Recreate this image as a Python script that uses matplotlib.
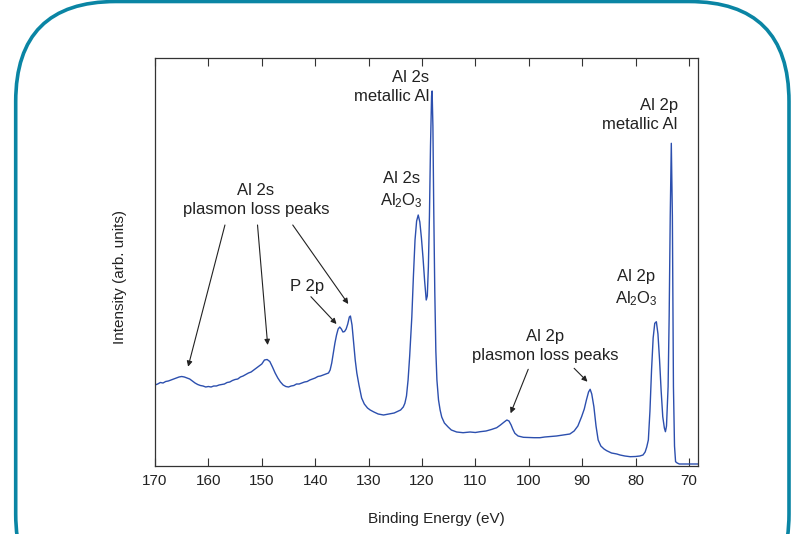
import matplotlib
matplotlib.use("Agg")
import matplotlib.pyplot as plt
from matplotlib.patches import FancyBboxPatch
from matplotlib.transforms import IdentityTransform

plt.rcParams['font.family'] = ['Liberation Sans', 'DejaVu Sans']
plt.rcParams['mathtext.fontset'] = 'custom'
plt.rcParams['mathtext.rm'] = 'Liberation Sans'
plt.rcParams['mathtext.default'] = 'regular'

# ---- data (binding energy in eV, intensity in arb. units) ----
energy = [170.0, 169.5, 169.0, 168.5, 168.0, 167.5, 167.0, 166.5, 166.0, 165.5,
          165.0, 164.5, 164.0, 163.5, 163.0, 162.5, 162.0, 161.5, 161.0, 160.5,
          160.0, 159.5, 159.0, 158.5, 158.0, 157.5, 157.0, 156.5, 156.0, 155.5,
          155.0, 154.5, 154.0, 153.5, 153.0, 152.5, 152.0, 151.5, 151.0, 150.5,
          150.0, 149.5, 149.0, 148.5, 148.0, 147.5, 147.0, 146.5, 146.0, 145.5,
          145.0, 144.5, 144.0, 143.5, 143.0, 142.5, 142.0, 141.5, 141.0, 140.5,
          140.0, 139.5, 139.0, 138.5, 138.0, 137.5, 137.2, 136.9, 136.6, 136.3,
          136.0, 135.7, 135.4, 135.1, 134.8, 134.5, 134.2, 133.9, 133.6, 133.4,
          133.1, 132.8, 132.5, 132.2, 131.8, 131.3, 130.8, 130.2, 129.7, 129.0,
          128.2, 127.2, 126.2, 125.2, 124.7, 124.0, 123.5, 123.2, 122.9, 122.6,
          122.3, 121.9, 121.6, 121.3, 121.0, 120.7, 120.4, 120.1, 119.8, 119.5,
          119.2, 119.0, 118.8, 118.6, 118.4, 118.2, 118.1, 117.95, 117.8, 117.6,
          117.4, 117.2, 116.9, 116.6, 116.3, 115.8, 115.1, 114.5, 113.5, 112.3,
          111.0, 110.0, 109.1, 108.0, 107.0, 106.0, 105.3, 104.6, 104.1, 103.7,
          103.3, 103.0, 102.6, 102.0, 101.0, 100.0, 99.0, 97.9, 97.0, 96.0,
          94.8, 93.5, 92.3, 91.5, 90.8, 90.1, 89.6, 89.2, 88.8, 88.5,
          88.2, 87.8, 87.4, 87.0, 86.5, 85.9, 85.4, 84.5, 83.5, 82.9,
          82.0, 81.0, 80.0, 79.2, 78.6, 78.2, 77.9, 77.6, 77.3, 77.0,
          76.7, 76.4, 76.1, 75.8, 75.5, 75.2, 74.9, 74.6, 74.4, 74.2,
          73.9, 73.7, 73.5, 73.3, 73.1, 72.9, 72.7, 72.5, 72.2, 71.8,
          70.0, 68.3]
intensity = [81, 82, 83.5, 83, 84.5, 85, 86, 87, 88, 89,
             89.5, 89, 88, 87, 85, 83, 81.5, 80.5, 80, 79,
             79.5, 79, 80, 80, 81, 81.5, 82, 83.5, 84, 85.5,
             86.5, 87, 89, 90, 91.5, 93, 94, 96, 98, 100,
             102, 106, 106.5, 104.5, 99, 93, 88, 84, 81, 79.5,
             79, 80, 80.5, 82, 82, 83, 84, 84.5, 86, 87,
             88, 89.5, 90, 91, 92, 93, 96, 103, 113, 123,
             131, 137, 139, 137, 134, 134.5, 137, 142, 149, 150,
             141, 123, 106, 93, 81, 68, 62, 58, 56, 54,
             52, 51, 52, 53, 54.3, 56, 59, 62.7, 70, 86,
             110, 149, 190, 226, 245, 251, 244, 228, 208, 185,
             166, 170, 199, 250, 320, 370, 375, 340, 260, 175,
             115, 86, 66, 56, 49, 43, 39, 36, 34, 33.3,
             34, 33.5, 34.3, 35, 36.5, 38.3, 41, 44, 46, 45,
             41, 37, 32.7, 30, 28.7, 28.5, 28.3, 28.3, 29, 29.5,
             30, 31, 32, 35, 40, 49.3, 57, 66, 74, 76.7,
             72, 59.3, 40, 26, 20, 17, 15.3, 13, 12, 11,
             10, 9.3, 9.5, 10, 11, 14, 19, 26, 55, 96,
             128, 142.7, 144.3, 132, 106, 75, 49.3, 38, 34.3, 40,
             79.3, 150, 250, 322.7, 250, 79.3, 20, 4.3, 3, 2,
             2, 2]

xticks = [170, 160, 150, 140, 130, 120, 110, 100, 90, 80, 70]

labels = ["Al 2s\nmetallic Al", "Al 2p\nmetallic Al", "Al 2s\nAl$_2$O$_3$",
          "Al 2s\nplasmon loss peaks", "P 2p", "Al 2p\nplasmon loss peaks",
          "Al 2p\nAl$_2$O$_3$"]
label_pos = [(118.7, 379), (72.1, 351), (123.9, 275.5), (151.1, 266),
             (141.5, 179), (97.0, 120), (79.9, 177.5)]
label_ha = ['right', 'right', 'center', 'center', 'center', 'center', 'center']

arrow_from = [(156.9, 241), (150.8, 241), (144.2, 241), (140.8, 169.3),
              (100.1, 96.7), (91.5, 97.7)]
arrow_to = [(163.8, 99.3), (148.9, 121), (133.8, 162), (136.0, 142),
            (103.4, 52.7), (89.0, 84.3)]

# ---- figure ----
fig = plt.figure(figsize=(7.94, 5.34), dpi=100)
ax = fig.add_axes([155/794, 68/534, 543/794, 408/534])

ax.plot(energy, intensity, color='#2c4fae', lw=1.0)
ax.set_xlim(170, 68.3)
ax.set_ylim(0, 408)
ax.set_xticks(xticks)
ax.set_yticks([])
ax.tick_params(axis='x', direction='in', top=True, bottom=True, length=6,
               width=0.8, color='#333333', labelsize=11, labelcolor='#222222', pad=6)
for s in ax.spines.values():
    s.set_color('#333333')
    s.set_linewidth(0.9)

ax.set_xlabel("Binding Energy (eV)", fontsize=11, color='#222222')
ax.set_ylabel("Intensity (arb. units)", fontsize=11, color='#222222')
ax.xaxis.set_label_coords((436 - 155) / 543, (466 - 512) / 408)
ax.yaxis.set_label_coords((127 - 155) / 543, (466 - 277) / 408)

for txt, (x, y), ha in zip(labels, label_pos, label_ha):
    ax.text(x, y, txt, ha=ha, va='center', multialignment=ha, fontsize=12,
            color='#222222', linespacing=1.35)

for (x0, y0), (x1, y1) in zip(arrow_from, arrow_to):
    ax.annotate("", xy=(x1, y1), xytext=(x0, y0),
                arrowprops=dict(arrowstyle='-|>', lw=0.8, color='#222222',
                                mutation_scale=8, shrinkA=0, shrinkB=0))

frame = FancyBboxPatch((15.7, -80), 773.3, 532.5 + 80,
                       boxstyle='round,pad=0,rounding_size=100',
                       transform=IdentityTransform(), fill=False,
                       ec='#0a85a4', lw=2.6)
fig.add_artist(frame)

fig.savefig("out.png", dpi=100)
